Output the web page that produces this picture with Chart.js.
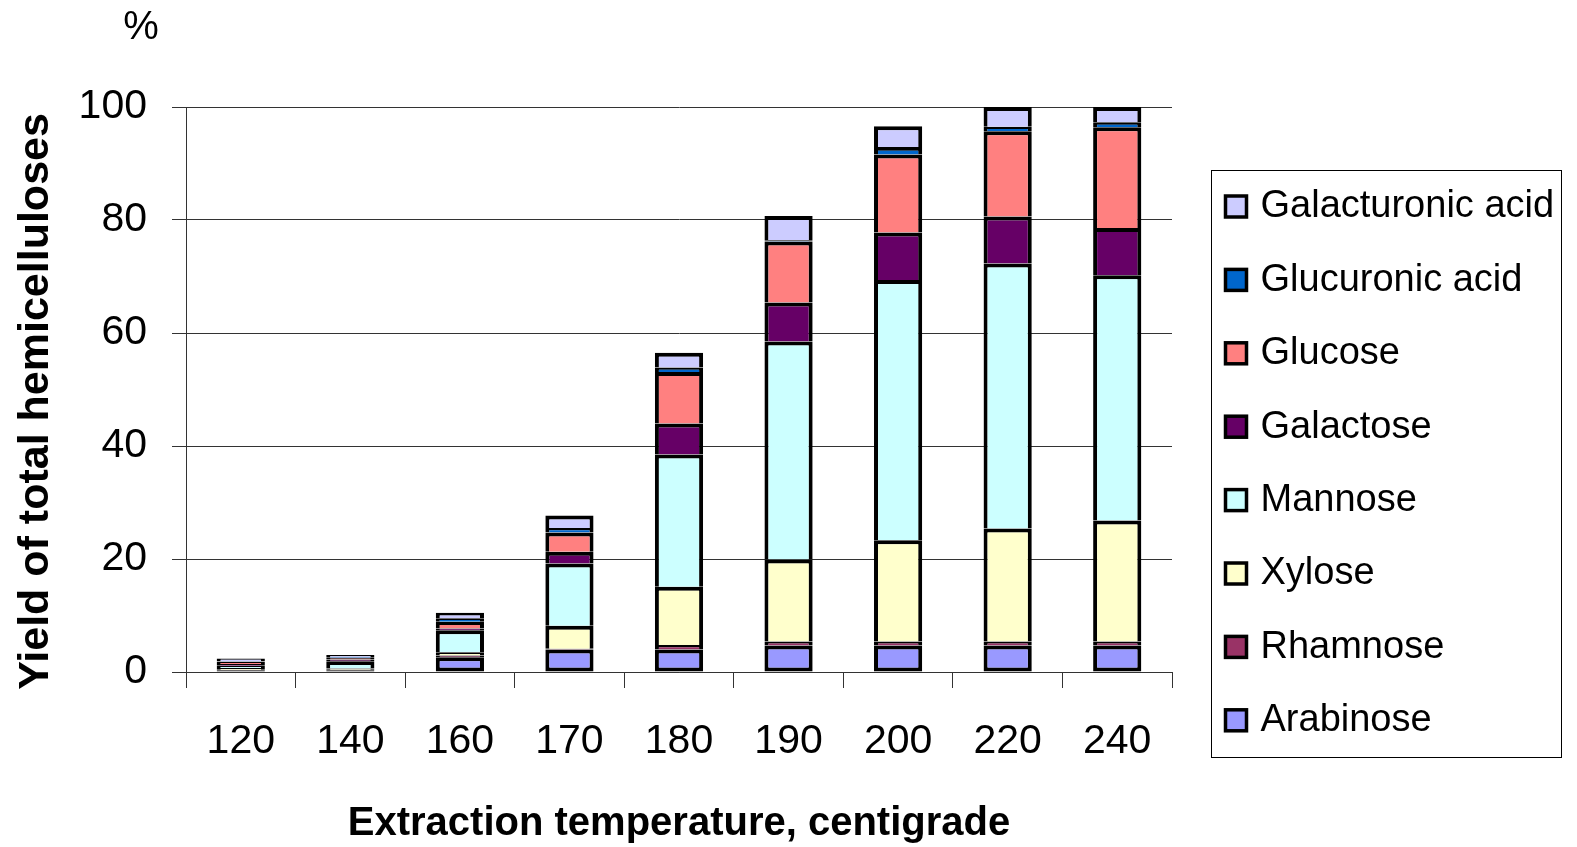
<!DOCTYPE html>
<html>
<head>
<meta charset="utf-8">
<script src="https://cdn.jsdelivr.net/npm/chart.js@4.4.1/dist/chart.umd.min.js"></script>
<style>
  html, body { margin: 0; padding: 0; background: #fff; overflow: hidden; }
  #wrap { width: 1577px; height: 847px; position: relative; }
  #grafico { display: block; }
</style>
</head>
<body>
<div id="wrap"><canvas id="grafico"></canvas></div>
<script>
// categorias (temperatura de extraccion)
const temperatures = ['120', '140', '160', '170', '180', '190', '200', '220', '240'];

// rendimiento por azucar, % del total de hemicelulosas
const arabinose        = [0.3, 0.3, 2.6, 4.0, 4.0, 4.7, 4.7, 4.7, 4.7];
const rhamnose         = [0.1, 0.1, 0.3, 0.1, 0.8, 0.7, 0.7, 0.7, 0.7];
const xylose           = [0.3, 0.2, 0.6, 4.1, 10.3, 14.5, 17.9, 20.0, 21.4];
const mannose          = [0.4, 1.3, 3.9, 11.0, 23.4, 38.6, 46.1, 46.9, 43.4];
const galactose        = [0.3, 0.3, 0.3, 2.1, 5.5, 6.9, 8.4, 8.3, 8.4];
const glucose          = [0.4, 0.3, 1.2, 3.4, 9.1, 10.8, 13.8, 15.1, 17.8];
const glucuronicAcid   = [0.1, 0.1, 0.6, 0.8, 0.8, 0.2, 1.3, 0.8, 0.9];
const galacturonicAcid = [0.5, 0.4, 1.0, 2.2, 2.6, 4.3, 3.7, 3.5, 2.7];

const yTicksMax = 100;
const yTicksStep = 20;

const FONT = '"Liberation Sans", Arial, sans-serif';

function serie(label, data, color, extra) {
  return Object.assign({
    label: label,
    data: data,
    backgroundColor: color,
    borderColor: '#000',
    borderWidth: 4,
    clip: false
  }, extra || {});
}

// leyenda dibujada a mano (orden inverso, como en Excel) y el signo %
const extrasPlugin = {
  id: 'extras',
  afterDraw(chart) {
    const ctx = chart.ctx;
    const area = chart.chartArea;
    const yScale = chart.scales.y;
    ctx.save();

    ctx.fillStyle = '#000';
    ctx.font = '40px ' + FONT;
    ctx.textAlign = 'center';
    ctx.textBaseline = 'middle';
    ctx.fillText('%', 141, yScale.getPixelForValue(yTicksMax) - 79);

    // caja de la leyenda
    const boxX = area.right + 39.5;
    const boxY = 170.5;
    ctx.strokeStyle = '#000';
    ctx.lineWidth = 1;
    ctx.strokeRect(boxX, boxY, 350, 587);

    const sets = chart.data.datasets.slice().reverse();
    ctx.font = '38px ' + FONT;
    ctx.textAlign = 'left';
    for (let k = 0; k < sets.length; k++) {
      const cy = 206 + k * 73.4;
      ctx.fillStyle = sets[k].backgroundColor;
      ctx.fillRect(boxX + 14, cy - 10, 21, 21);
      ctx.lineWidth = 3.5;
      ctx.strokeRect(boxX + 14, cy - 10, 21, 21);
      ctx.fillStyle = '#000';
      ctx.fillText(sets[k].label, boxX + 49, cy + 1);
    }
    ctx.restore();
  }
};

const ctx = document.getElementById('grafico').getContext('2d');
new Chart(ctx, {
  type: 'bar',
  data: {
    labels: temperatures,
    datasets: [
      serie('Arabinose', arabinose, '#9999FF', { borderSkipped: false }),
      serie('Rhamnose', rhamnose, '#993366'),
      serie('Xylose', xylose, '#FFFFCC'),
      serie('Mannose', mannose, '#CCFFFF'),
      serie('Galactose', galactose, '#660066'),
      serie('Glucose', glucose, '#FF8080'),
      serie('Glucuronic acid', glucuronicAcid, '#0066CC'),
      serie('Galacturonic acid', galacturonicAcid, '#CCCCFF')
    ]
  },
  options: {
    responsive: true,
    maintainAspectRatio: false,
    animation: false,
    categoryPercentage: 1,
    barPercentage: 0.44,
    layout: { padding: { top: 107, right: 405, bottom: 0, left: 0 } },
    plugins: {
      legend: { display: false },
      tooltip: { enabled: false }
    },
    scales: {
      x: {
        stacked: true,
        grid: { offset: true, drawOnChartArea: false, drawTicks: true, tickLength: 16, color: '#333', lineWidth: 1 },
        border: { display: true, color: '#333', width: 1 },
        ticks: { font: { size: 41, family: FONT }, color: '#000', padding: 29, maxRotation: 0, autoSkip: false },
        title: {
          display: true,
          text: 'Extraction temperature, centigrade',
          font: { size: 40, weight: 'bold', family: FONT, lineHeight: 1.1 },
          color: '#000',
          padding: { top: 0, bottom: 1 }
        },
        afterFit: function(scale) { scale.height = 175; }
      },
      y: {
        stacked: true,
        min: 0,
        max: yTicksMax,
        grid: { color: '#333', lineWidth: 1, drawTicks: true, tickLength: 14 },
        border: { display: true, color: '#333', width: 1 },
        ticks: { stepSize: yTicksStep, font: { size: 41, family: FONT }, color: '#000', padding: 25 },
        title: {
          display: true,
          text: 'Yield of total hemicelluloses  ',
          font: { size: 43, weight: 'bold', family: FONT },
          color: '#000',
          padding: { top: 10, bottom: 0 }
        },
        afterFit: function(scale) { scale.width = 186; }
      }
    }
  },
  plugins: [extrasPlugin]
});
</script>
</body>
</html>
